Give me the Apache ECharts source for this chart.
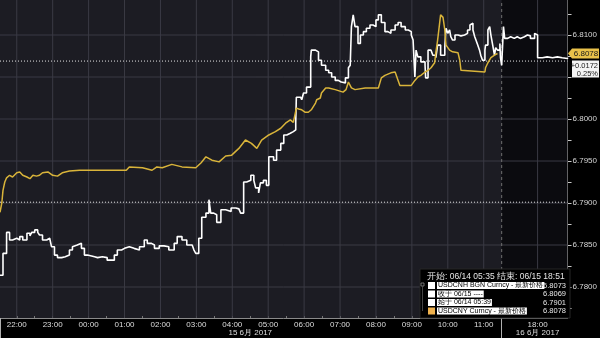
<!DOCTYPE html>
<html><head><meta charset="utf-8">
<script src="https://cdn.jsdelivr.net/npm/echarts@6/dist/echarts.min.js"></script>
<style>html,body{margin:0;padding:0;background:#000;}#c{width:600px;height:338px;}</style>
</head><body><div id="c"></div><script>
// ---------------- data ----------------
// Session A: 06/14 21:32 -> 06/15 11:30 ; Session B: 16 Jun 17:00 -> 18:50 (compressed axis)
const sessionAEnd = "11:30";
const sessionBStart = "17:00";
const axisStart = "21:32";
const axisEndB = "18:50";

const cnhTimesA = ["21:32","21:37","21:43","21:48","21:53","22:00","22:05","22:10","22:17","22:22","22:25","22:30","22:35","22:38","22:43","22:50","22:55","22:58","23:03","23:08","23:15","23:21","23:28","23:33","23:36","23:41","23:48","23:53","23:58","00:05","00:10","00:15","00:23","00:31","00:38","00:43","00:48","00:55","01:00","01:08","01:16","01:25","01:33","01:38","01:45","01:50","01:58","02:06","02:14","02:23","02:28","02:36","02:44","02:53","02:56","02:59","03:04","03:09","03:16","03:21","03:24","03:29","03:34","03:41","03:49","03:58","04:06","04:11","04:14","04:19","04:24","04:31","04:36","04:39","04:44","04:47","04:52","04:57","05:01","05:09","05:14","05:21","05:26","05:31","05:37","05:42","05:46","05:47","05:54","05:56","05:59","06:04","06:11","06:12","06:19","06:24","06:29","06:36","06:41","06:46","06:52","06:57","07:02","07:09","07:14","07:17","07:19","07:22","07:25","07:30","07:34","07:39","07:44","07:50","07:55","08:00","08:04","08:09","08:15","08:20","08:25","08:32","08:37","08:42","08:49","08:54","08:59","09:02","09:05","09:07","09:10","09:15","09:22","09:23","09:27","09:32","09:35","09:40","09:43","09:48","09:55","09:57","10:00","10:03","10:05","10:08","10:12","10:17","10:22","10:28","10:33","10:37","10:38","10:42","10:45","10:47","10:50","10:53","10:55","10:58","11:02","11:03","11:07","11:10","11:12","11:15","11:18","11:20","11:23","11:27","11:28"];
const cnhValuesA = [6.7814,6.7840,6.7865,6.7856,6.7858,6.7856,6.7860,6.7856,6.7864,6.7861,6.7865,6.7868,6.7865,6.7862,6.7856,6.7858,6.7856,6.7848,6.7838,6.7835,6.7836,6.7838,6.7844,6.7848,6.7850,6.7852,6.7846,6.7838,6.7837,6.7836,6.7835,6.7836,6.7835,6.7832,6.7832,6.7838,6.7844,6.7846,6.7848,6.7846,6.7844,6.7848,6.7856,6.7852,6.7850,6.7846,6.7849,6.7848,6.7844,6.7852,6.7860,6.7856,6.7850,6.7848,6.7844,6.7840,6.7858,6.7883,6.7888,6.7904,6.7888,6.7886,6.7877,6.7892,6.7890,6.7894,6.7893,6.7895,6.7888,6.7925,6.7927,6.7933,6.7927,6.7918,6.7912,6.7924,6.7927,6.7921,6.7955,6.7951,6.7963,6.7971,6.7981,6.7983,6.7985,6.7987,6.7996,6.8026,6.8026,6.8023,6.8031,6.8038,6.8074,6.8082,6.8080,6.8070,6.8064,6.8058,6.8055,6.8050,6.8046,6.8044,6.8043,6.8049,6.8061,6.8064,6.8110,6.8124,6.8110,6.8090,6.8100,6.8104,6.8108,6.8112,6.8110,6.8118,6.8124,6.8115,6.8104,6.8102,6.8106,6.8112,6.8115,6.8110,6.8106,6.8104,6.8100,6.8094,6.8050,6.8082,6.8074,6.8068,6.8064,6.8049,6.8082,6.8080,6.8076,6.8073,6.8088,6.8076,6.8086,6.8108,6.8102,6.8106,6.8098,6.8094,6.8100,6.8099,6.8100,6.8102,6.8106,6.8112,6.8114,6.8106,6.8098,6.8094,6.8088,6.8082,6.8076,6.8070,6.8082,6.8088,6.8106,6.8110,6.8100,6.8088,6.8076,6.8085,6.8082,6.8090,6.8073];
const cnhTimesB = ["17:00","17:03","17:05","17:10","17:15","17:21","17:26","17:31","17:38","17:43","17:48","17:55","17:56","18:00","18:08","18:16","18:25","18:33","18:41","18:50"];
const cnhValuesB = [6.8064,6.8110,6.8096,6.8098,6.8096,6.8098,6.8096,6.8098,6.8100,6.8099,6.8096,6.8102,6.8100,6.8073,6.8074,6.8073,6.8074,6.8073,6.8072,6.8073];

const cnyTimes = ["21:32","21:35","21:37","21:40","21:43","21:48","21:53","22:00","22:05","22:10","22:17","22:22","22:27","22:33","22:38","22:43","22:52","23:00","23:08","23:16","23:28","23:45","00:18","01:03","01:08","01:30","01:46","01:54","02:03","02:19","02:36","02:59","03:08","03:16","03:26","03:38","03:49","03:59","04:11","04:22","04:32","04:41","04:49","05:01","05:12","05:21","05:29","05:37","05:42","05:47","05:51","05:56","06:02","06:07","06:12","06:19","06:21","06:27","06:29","06:36","06:41","06:52","07:05","07:10","07:14","07:19","07:25","07:42","08:04","08:09","08:15","08:25","08:32","08:37","08:40","08:59","09:05","09:10","09:15","09:22","09:27","09:32","09:38","09:40","09:43","09:47","09:48","09:52","09:55","09:57","10:00","10:03","10:08","10:17","10:20","10:22","10:25","11:02","11:03","11:07","11:12","11:18","11:23"];
const cnyValues = [6.7889,6.7900,6.7915,6.7925,6.7930,6.7933,6.7931,6.7936,6.7937,6.7933,6.7931,6.7929,6.7933,6.7932,6.7933,6.7936,6.7937,6.7933,6.7932,6.7936,6.7938,6.7939,6.7939,6.7939,6.7943,6.7942,6.7939,6.7943,6.7942,6.7946,6.7943,6.7942,6.7948,6.7955,6.7951,6.7949,6.7956,6.7957,6.7965,6.7975,6.7971,6.7965,6.7975,6.7981,6.7985,6.7989,6.7995,6.7999,6.7996,6.8013,6.8012,6.8011,6.8008,6.8008,6.8011,6.8019,6.8023,6.8025,6.8031,6.8037,6.8037,6.8035,6.8032,6.8035,6.8044,6.8037,6.8035,6.8037,6.8037,6.8049,6.8052,6.8055,6.8056,6.8046,6.8040,6.8040,6.8046,6.8050,6.8052,6.8056,6.8058,6.8061,6.8067,6.8079,6.8094,6.8118,6.8124,6.8121,6.8106,6.8088,6.8085,6.8082,6.8080,6.8079,6.8070,6.8058,6.8056,6.8056,6.8061,6.8067,6.8073,6.8076,6.8078];

const cnhOpen = 6.7901;   // 始于 06/14 05:39
const cnhClose = 6.8069;  // 收于 06/15
const cnhLast = 6.8073;
const cnyLast = 6.8078;
const cnyPrev = 6.7906;

const hourLabelsA = ["22:00","23:00","00:00","01:00","02:00","03:00","04:00","05:00","06:00","07:00","08:00","09:00","10:00","11:00"];
const hourLabelsB = ["18:00"];
const dateLabels = [{at:"04:30", session:"A", text:"15 6月 2017"},{at:"18:00", session:"B", text:"16 6月 2017"}];
const yLabelValues = [6.7800,6.7850,6.7900,6.7950,6.8000,6.8100];
const yGridValues = [6.7800,6.7850,6.7900,6.7950,6.8000,6.8050,6.8100];
const yTickStep = 0.0025;
const yRange = [6.77631, 6.81417];

const headerText = "开始: 06/14 05:35 结束: 06/15 18:51";
const legendRows = [
  {color:'#ffffff', label:'USDCNH BGN Curncy - 最新价格', value:cnhLast},
  {color:'#ffffff', label:'收于 06/15 ----', value:cnhClose},
  {color:'#ffffff', label:'始于 06/14 05:39', value:cnhOpen},
  {color:'#efb24e', label:'USDCNY Curncy - 最新价格', value:cnyLast}
];

// ---------------- helpers ----------------
function hm(t){const p=t.split(':').map(Number);return p[0]*60+p[1];}
function posA(t){const m=hm(t);return m>=21*60 ? m-22*60 : m+120;}
const BREAK = posA(sessionAEnd);
function posB(t){return BREAK + hm(t) - hm(sessionBStart);}
const xMin = posA(axisStart), xMax = posB(axisEndB);

const cnhData = cnhTimesA.map((t,i)=>[posA(t),cnhValuesA[i]]).concat(cnhTimesB.map((t,i)=>[posB(t),cnhValuesB[i]]));
const cnyData = cnyTimes.map((t,i)=>[posA(t),cnyValues[i]]);

const labelMap = {};
hourLabelsA.forEach(l=>labelMap[posA(l)]=l);
hourLabelsB.forEach(l=>labelMap[posB(l)]=l);
const labelPos = Object.keys(labelMap).map(Number);
const dateMap = {};
dateLabels.forEach(d=>dateMap[d.session==='A'?posA(d.at):posB(d.at)]=d.text);
const halfHours = [];
for(let v=-30; v<=BREAK; v+=30) if(v>=xMin) halfHours.push(v);
const yTicks = [];
for(let k=Math.ceil(yRange[0]/yTickStep); k*yTickStep<=yRange[1]; k++) yTicks.push(+(k*yTickStep).toFixed(4));

// reference-line segments (null breaks the line between segments)
const gridSegs = [];
yGridValues.forEach(v=>{gridSegs.push([xMin,v],[xMax,v],[xMax,null]);});
labelPos.forEach(p=>{gridSegs.push([p,yRange[0]],[p,yRange[1]],[p,null]);});
const dotSegs = [[xMin,cnhOpen],[xMax,cnhOpen],[xMax,null],[xMin,cnhClose],[xMax,cnhClose]];
const breakSeg = [[BREAK,yRange[0]],[BREAK,yRange[1]]];

const FONT = '"Liberation Sans", Arial, sans-serif';
const chart = echarts.init(document.getElementById('c'));

chart.setOption({
  animation:false,
  backgroundColor:'#000',
  grid:{left:0,right:30,top:0,bottom:20,show:true,backgroundColor:'#1c1c23',borderWidth:0},
  xAxis:[{
    type:'value',min:xMin,max:xMax,
    axisLine:{show:true,onZero:false,lineStyle:{color:'#8a8a8a',width:1}},
    axisTick:{show:true,customValues:halfHours,inside:true,length:2,lineStyle:{color:'#777'}},
    axisLabel:{customValues:labelPos,formatter:v=>labelMap[v]||'',color:'#dedede',fontSize:8,margin:3,fontFamily:FONT},
    splitLine:{show:false}
  },{
    type:'value',min:xMin,max:xMax,position:'bottom',
    axisLine:{show:false,onZero:false},
    axisTick:{show:true,customValues:[xMin,BREAK],length:20,lineStyle:{color:'#b0b0b0'}},
    axisLabel:{customValues:Object.keys(dateMap).map(Number),formatter:v=>dateMap[v]||'',color:'#dedede',fontSize:8,margin:11,fontFamily:FONT},
    splitLine:{show:false}
  }],
  yAxis:[{
    type:'value',position:'right',min:yRange[0],max:yRange[1],
    axisLine:{show:true,onZero:false,lineStyle:{color:'#c8c8c8'}},
    axisTick:{show:false},
    axisLabel:{customValues:yLabelValues,formatter:v=>v.toFixed(4),color:'#d6d6d6',fontSize:8,margin:5,fontFamily:FONT},
    splitLine:{show:false}
  },{
    type:'value',position:'right',min:yRange[0],max:yRange[1],
    axisLine:{show:false,onZero:false},
    axisTick:{show:true,customValues:yTicks,length:4,lineStyle:{color:'#c8c8c8'}},
    axisLabel:{show:false},
    splitLine:{show:false}
  }],
  series:[
    {type:'line',data:[],z:1,silent:true,
     markArea:{silent:true,itemStyle:{color:'#0b0b0f'},data:[[{xAxis:BREAK},{xAxis:xMax}]]}},
    {type:'line',data:gridSegs,z:2,silent:true,symbol:'none',connectNulls:false,
     lineStyle:{color:'#3a3a44',width:1}},
    {type:'line',data:breakSeg,z:3,silent:true,symbol:'none',
     lineStyle:{color:'#6e6e6e',width:1,type:[3,3]}},
    {type:'line',data:dotSegs,z:3,silent:true,symbol:'none',connectNulls:false,
     lineStyle:{color:'#e6e6e6',width:1,type:[1,2]}},
    {name:'USDCNH BGN Curncy',type:'line',step:'end',data:cnhData,symbol:'none',z:5,
     lineStyle:{color:'#ffffff',width:1.6}},
    {name:'USDCNY Curncy',type:'line',data:cnyData,symbol:'none',z:6,
     lineStyle:{color:'#d9b43a',width:1.5}}
  ]
});

// right-side last price tags, placed via the library's y scale
const yL = chart.convertToPixel({yAxisIndex:0}, cnyLast);
const chg = cnyLast - cnyPrev;
const pct = chg / cnyPrev * 100;
const ax = 571;
const g = [
  {type:'polygon',shape:{points:[[ax-3,yL],[ax+1,yL-5],[599,yL-5],[599,yL+5],[ax+1,yL+5]]},style:{fill:'#e9c24a'},z:100},
  {type:'text',x:586,y:yL,style:{text:cnyLast.toFixed(4),fill:'#1a1a1a',font:'8px '+FONT,align:'center',verticalAlign:'middle'},z:101},
  {type:'rect',shape:{x:ax+1,y:yL+7,width:27,height:17},style:{fill:'#f4f4f4'},z:100},
  {type:'text',x:598,y:yL+12,style:{text:(chg>=0?'+':'')+chg.toFixed(4),fill:'#222',font:'7.5px '+FONT,align:'right',verticalAlign:'middle'},z:101},
  {type:'text',x:598,y:yL+20.5,style:{text:pct.toFixed(2)+'%',fill:'#222',font:'7.5px '+FONT,align:'right',verticalAlign:'middle'},z:101},
  // legend box
  {type:'rect',shape:{x:420,y:269,width:150,height:49},style:{fill:'#000',stroke:'#262626',lineWidth:1},z:90},
  {type:'text',x:427,y:276.5,style:{text:headerText,fill:'#e6e6e6',font:'8.5px '+FONT,verticalAlign:'middle'},z:91},
  {type:'rect',shape:{x:421,y:283,width:3,height:3},style:{fill:'none',stroke:'#888',lineWidth:0.8},z:91},
  {type:'line',shape:{x1:422.5,y1:286,x2:422.5,y2:311},style:{stroke:'#555',lineWidth:0.8},z:91}
];
legendRows.forEach((r,i)=>{
  const yc = 285.5 + i*8.5;
  g.push({type:'rect',shape:{x:428,y:yc-3.5,width:7,height:7},style:{fill:r.color},z:91});
  g.push({type:'text',x:437,y:yc,style:{text:r.label,fill:'#000',backgroundColor:'#ffffff',padding:[0,1,0,1],font:'7px '+FONT,verticalAlign:'middle'},z:91});
  g.push({type:'text',x:566,y:yc,style:{text:r.value.toFixed(4),fill:'#e6e6e6',font:'7.5px '+FONT,align:'right',verticalAlign:'middle'},z:91});
});
chart.setOption({graphic:g});
</script></body></html>
